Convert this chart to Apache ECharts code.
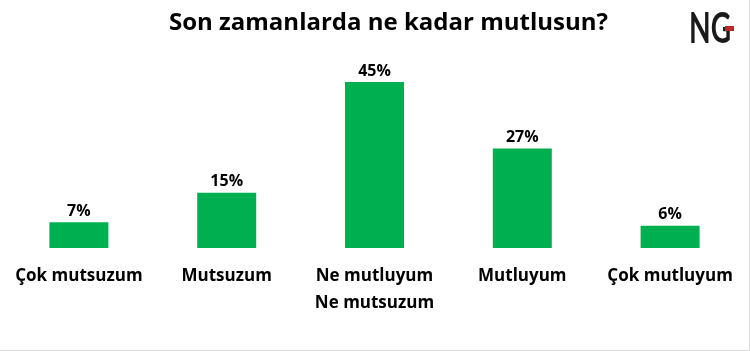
<!DOCTYPE html>
<html>
<head>
<meta charset="utf-8">
<script src="https://cdn.jsdelivr.net/npm/echarts@6/dist/echarts.min.js"></script>
<style>
  html, body { margin: 0; padding: 0; background: #fff; }
  #chart { width: 750px; height: 351px; box-sizing: border-box; border-right: 1px solid #ddd; border-bottom: 1px solid #ddd; }
</style>
</head>
<body>
<div id="chart"></div>
<script>
// veriler
const categories = ['Çok mutsuzum', 'Mutsuzum', 'Ne mutluyum\nNe mutsuzum', 'Mutluyum', 'Çok mutluyum'];
const values = [7, 15, 45, 27, 6];
const title = 'Son zamanlarda ne kadar mutlusun?';

const chart = echarts.init(document.getElementById('chart'));

const option = {
  animation: false,
  title: {
    text: title,
    left: 164,
    top: 6,
    textStyle: { fontFamily: 'Open Sans', fontWeight: 'bold', fontSize: 24, color: '#000' }
  },
  grid: { left: 5, right: 5, top: 82, bottom: 102 },
  xAxis: {
    type: 'category',
    data: categories,
    axisLine: { show: false },
    axisTick: { show: false },
    axisLabel: {
      color: '#000',
      fontFamily: 'Open Sans',
      fontWeight: 'bold',
      fontSize: 17,
      lineHeight: 27,
      margin: 15,
      interval: 0
    }
  },
  yAxis: {
    type: 'value',
    min: 0,
    max: 45,
    show: false,
    splitLine: { show: false }
  },
  series: [{
    type: 'bar',
    data: values,
    barWidth: 59,
    itemStyle: { color: '#00B050' },
    label: {
      show: true,
      position: 'top',
      distance: 3,
      formatter: '{c}%',
      color: '#000',
      fontFamily: 'Open Sans',
      fontWeight: 'bold',
      fontSize: 16
    }
  }],
  graphic: [
    {
      // logo
      type: 'text',
      x: 689,
      y: 29,
      scaleX: 0.67,
      style: {
        text: 'NG',
        fontFamily: 'Lato',
        fontWeight: 'bold',
        fontSize: 42,
        fill: '#1a1a1a',
        verticalAlign: 'middle'
      }
    },
    {
      type: 'rect',
      shape: { x: 725, y: 26, width: 9, height: 5 },
      style: { fill: '#c0272d' }
    }
  ]
};

chart.setOption(option);
</script>
</body>
</html>
